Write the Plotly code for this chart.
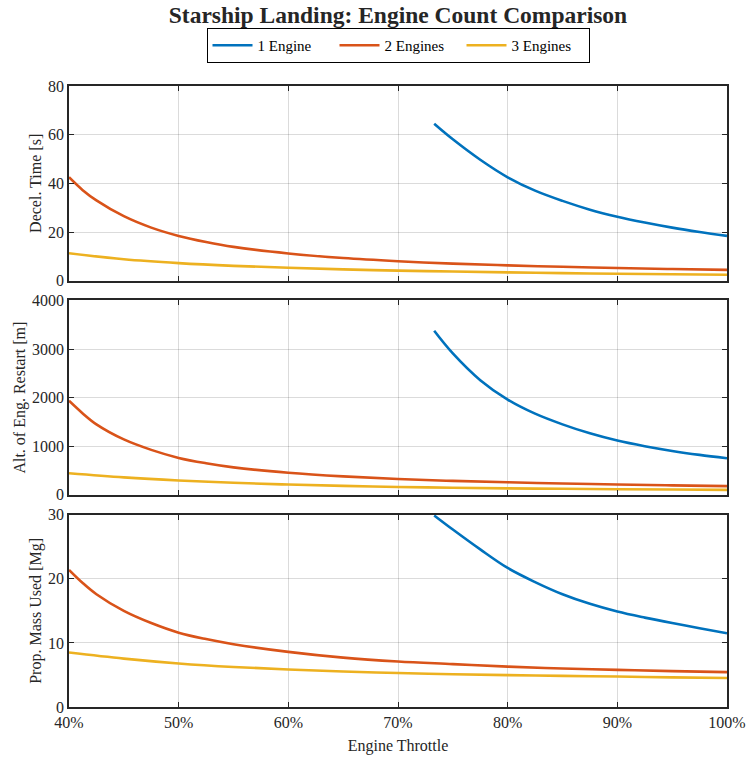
import plotly.graph_objects as go
from plotly.subplots import make_subplots

# ---------------- data ----------------
throttle_one = [73.3, 75, 77.5, 80, 82.5, 85, 87.5, 90, 92.5, 95, 97.5, 100]
throttle_two = [40, 41.25, 42.5, 45, 47.5, 50, 52.5, 55, 60, 65, 70, 75, 80, 85, 90, 95, 100]
throttle_three = [40, 45, 50, 55, 60, 65, 70, 75, 80, 85, 90, 95, 100]

decel_1 = [64.5, 58.1, 49.7, 42.5, 37.0, 32.8, 29.2, 26.3, 23.9, 21.8, 20.0, 18.4]
decel_2 = [42.5, 37.2, 33.0, 26.5, 21.8, 18.4, 15.9, 13.9, 11.2, 9.3, 8.0, 7.0, 6.3, 5.7, 5.2, 4.8, 4.45]
decel_3 = [11.3, 8.8, 7.2, 6.1, 5.3, 4.65, 4.15, 3.75, 3.4, 3.1, 2.85, 2.62, 2.42]

alt_1 = [3376, 2910, 2360, 1960, 1670, 1450, 1265, 1116, 1000, 904, 823, 753]
alt_2 = [1935, 1675, 1450, 1140, 925, 760, 650, 565, 455, 380, 325, 287, 258, 234, 213, 195, 179]
alt_3 = [445, 360, 296, 248, 212, 184, 162, 146, 134, 124, 116, 109, 103]

mass_1 = [29.9, 27.7, 24.6, 21.7, 19.5, 17.6, 16.1, 14.9, 13.95, 13.1, 12.3, 11.5]
mass_2 = [21.4, 19.35, 17.6, 15.0, 13.1, 11.6, 10.6, 9.8, 8.6, 7.7, 7.1, 6.7, 6.3, 6.0, 5.8, 5.6, 5.45]
mass_3 = [8.5, 7.55, 6.8, 6.25, 5.85, 5.55, 5.3, 5.12, 4.98, 4.86, 4.75, 4.63, 4.52]

series_names = ["1 Engine", "2 Engines", "3 Engines"]
colors = ["#0072BD", "#D95319", "#EDB120"]
y_titles = ["Decel. Time [s]", "Alt. of Eng. Restart [m]", "Prop. Mass Used [Mg]"]
y_ranges = [[0, 80], [0, 4000], [0, 30]]
y_dtick = [20, 1000, 10]
x_ticks = [40, 50, 60, 70, 80, 90, 100]

panels = [
    (decel_1, decel_2, decel_3),
    (alt_1, alt_2, alt_3),
    (mass_1, mass_2, mass_3),
]
x_sets = [throttle_one, throttle_two, throttle_three]

# ---------------- figure ----------------
W, H = 746, 757
mt, mb = 85.5, 49.5
ph = H - mt - mb
def dom(top_px, bot_px):
    return [(H - mb - bot_px) / ph, (H - mb - top_px) / ph]

domains = [dom(85.5, 280.5), dom(300.3, 495), dom(515, 707.5)]

fig = make_subplots(rows=3, cols=1, shared_xaxes=True, vertical_spacing=0.03)

FONT = "Liberation Serif, Times New Roman, serif"
AX = "#262626"

for r, series in enumerate(panels, start=1):
    for i, ys in enumerate(series):
        fig.add_trace(
            go.Scatter(
                x=x_sets[i], y=ys, mode="lines", name=series_names[i],
                line=dict(color=colors[i], width=2.6, shape="spline", smoothing=1.0),
                showlegend=(r == 1), hoverinfo="skip",
            ),
            row=r, col=1,
        )

for r in range(1, 4):
    fig.update_yaxes(
        row=r, col=1,
        range=y_ranges[r - 1], dtick=y_dtick[r - 1], tick0=0,
        domain=domains[r - 1], automargin=False,
        title=dict(text=y_titles[r - 1], font=dict(family=FONT, size=16, color=AX), standoff=2),
        showline=True, linecolor=AX, linewidth=1.8, mirror="ticks",
        ticks="inside", ticklen=5, tickwidth=1.3, tickcolor=AX,
        showgrid=True, gridcolor="rgba(0,0,0,0.14)", gridwidth=1,
        zeroline=False,
        tickfont=dict(family=FONT, size=16, color=AX),
    )
    fig.update_xaxes(
        row=r, col=1,
        range=[40, 100], tickvals=x_ticks, automargin=False,
        ticktext=[f"{v}%" for v in x_ticks],
        showticklabels=(r == 3),
        showline=True, linecolor=AX, linewidth=1.8, mirror="ticks",
        ticks="inside", ticklen=5, tickwidth=1.3, tickcolor=AX,
        showgrid=True, gridcolor="rgba(0,0,0,0.14)", gridwidth=1,
        zeroline=False,
        tickfont=dict(family=FONT, size=16, color=AX),
    )

fig.update_xaxes(
    row=3, col=1,
    title=dict(text="Engine Throttle", font=dict(family=FONT, size=16, color=AX), standoff=10),
)

fig.update_layout(
    width=W, height=H,
    margin=dict(l=69, r=19, t=mt, b=mb, autoexpand=False),
    paper_bgcolor="white", plot_bgcolor="white",
    font=dict(family=FONT, color=AX),
    title=dict(
        text="<b>Starship Landing: Engine Count Comparison</b>",
        x=(69 + 727) / 2 / W, xanchor="center",
        y=1 - 15 / H, yanchor="middle", yref="container",
        font=dict(family=FONT, size=23.5, color=AX),
    ),
    legend=dict(
        orientation="h", x=0.5, xanchor="center",
        y=(H - mb - 45) / ph, yanchor="middle",
        bgcolor="white", bordercolor="#000000", borderwidth=1,
        font=dict(family=FONT, size=15, color="#000000"),
        itemwidth=40, tracegroupgap=0, entrywidth=72,
    ),
    hovermode=False,
)

fig.write_html(
    "out.html",
    config={"displayModeBar": False},
    post_script="document.body.style.margin='0';document.body.style.overflow='hidden';",
)
